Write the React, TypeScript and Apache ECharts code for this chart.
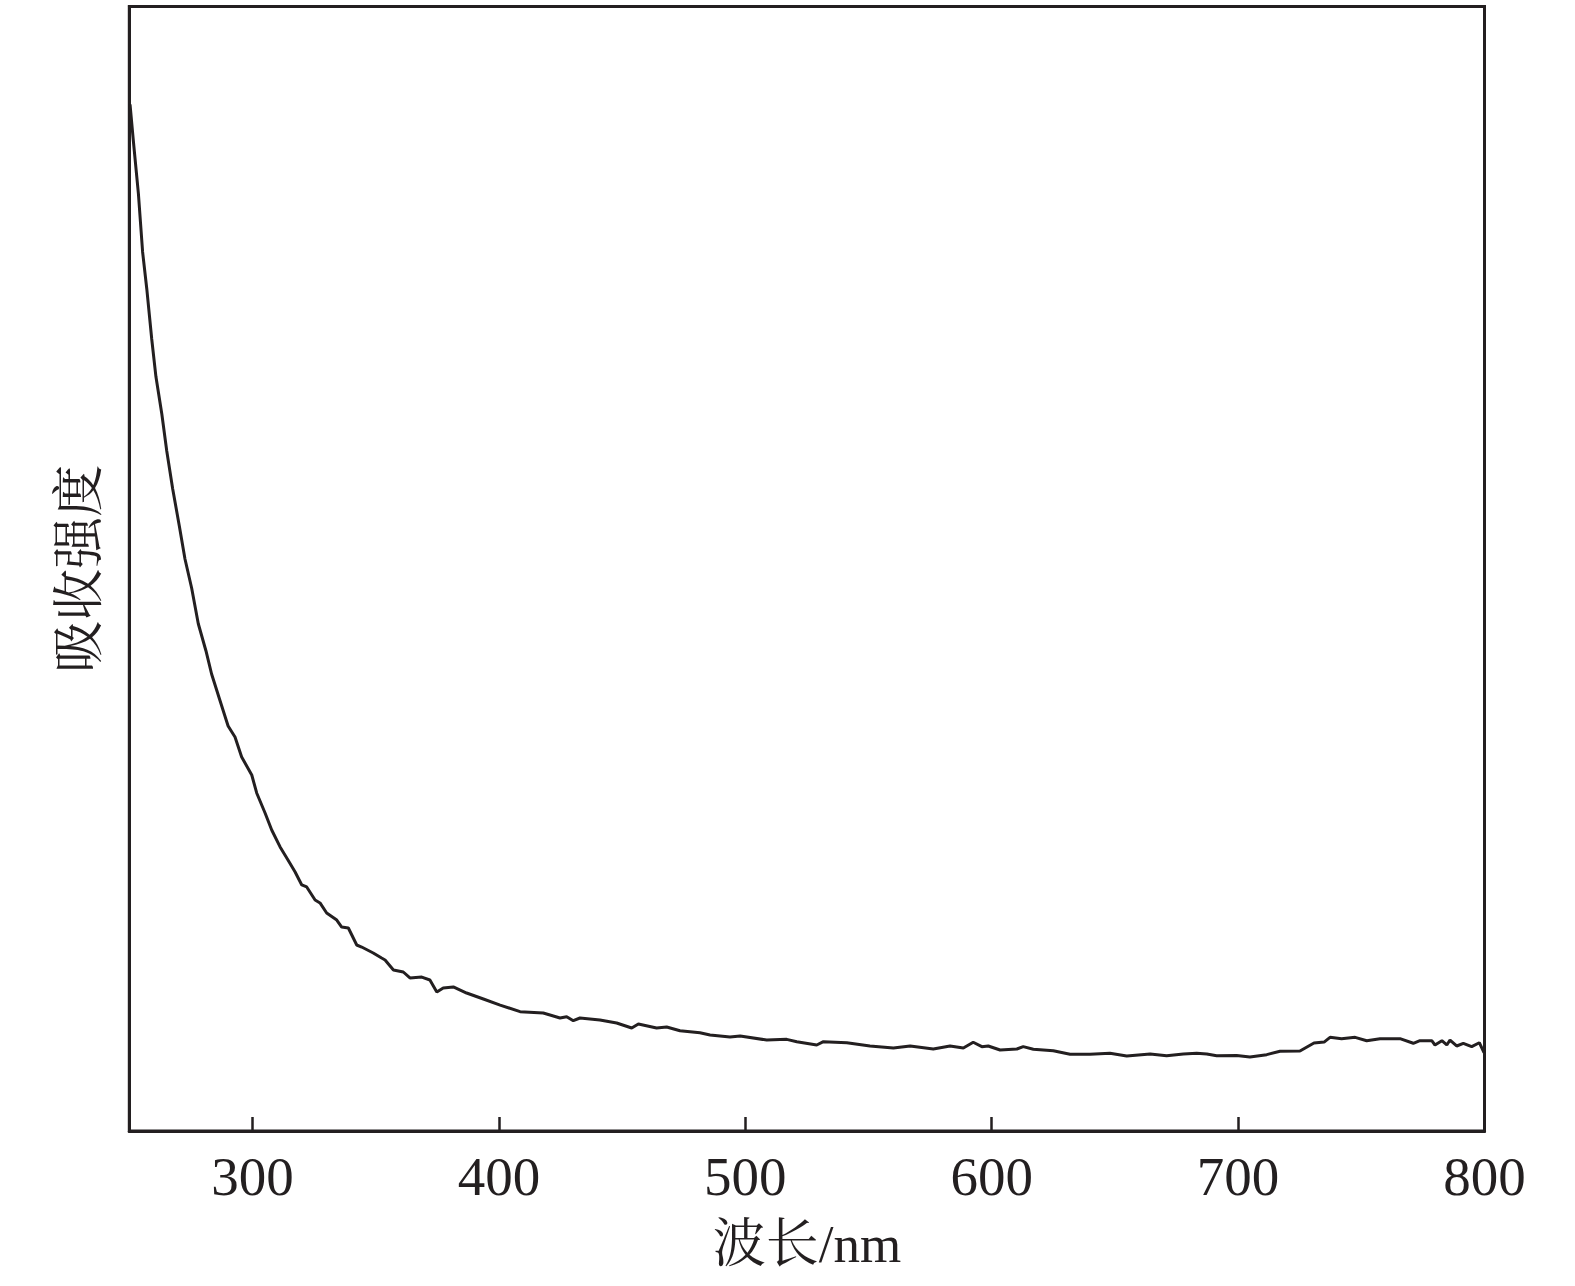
import React, { useEffect, useRef } from "react";
import * as echarts from "echarts";

// wavelength (nm)
const wavelengths: number[] = [
  250.3, 251.6, 253.7, 255.4, 257.1, 259.1, 260.8, 263.2, 265.2, 267.6,
  270.3, 272.6, 275.3, 278.0, 281.1, 283.4, 286.8, 290.1, 292.9, 295.6,
  299.7, 301.7, 305.1, 307.8, 311.2, 314.4, 317.3, 320.0, 322.0, 325.4,
  327.4, 330.1, 334.2, 336.2, 338.9, 342.3, 344.3, 349.0, 352.4, 353.8,
  357.2, 361.2, 363.9, 368.7, 372.0, 374.8, 377.4, 381.5, 386.9, 393.7,
  400.5, 408.6, 418.0, 424.8, 427.5, 430.2, 432.9, 441.0, 447.8, 453.9,
  456.6, 464.0, 468.1, 473.5, 481.6, 485.7, 493.8, 497.9, 508.7, 516.8,
  520.9, 529.0, 531.7, 541.2, 550.6, 560.1, 566.9, 576.3, 583.1, 588.5,
  592.5, 596.0, 598.6, 603.4, 610.2, 612.8, 616.9, 625.0, 631.8, 639.9,
  648.0, 654.8, 664.3, 671.0, 677.8, 683.2, 687.3, 691.3, 699.4, 704.8,
  711.6, 717.0, 725.1, 730.8, 734.9, 737.3, 742.0, 747.5, 752.2, 757.6,
  765.7, 771.1, 773.8, 778.6, 779.9, 782.7, 784.7, 786.0, 788.7, 791.4,
  794.8, 797.9, 799.8,
];

// absorption intensity (arbitrary units)
const absorbance: number[] = [
  0.9129, 0.8815, 0.8334, 0.7817, 0.7488, 0.7043, 0.6709, 0.6376, 0.6047, 0.5712,
  0.538, 0.5087, 0.4829, 0.4511, 0.4271, 0.4064, 0.3828, 0.3602, 0.3504, 0.3326,
  0.3166, 0.3006, 0.2828, 0.2677, 0.2526, 0.241, 0.2303, 0.2188, 0.217, 0.2054,
  0.2028, 0.1939, 0.1876, 0.1814, 0.1805, 0.1654, 0.1636, 0.1583, 0.1538, 0.1521,
  0.1432, 0.1414, 0.1361, 0.1369, 0.1343, 0.1236, 0.1272, 0.1281, 0.1227, 0.1174,
  0.112, 0.1061, 0.1049, 0.1005, 0.1016, 0.0981, 0.1005, 0.0987, 0.096, 0.0916,
  0.0952, 0.0916, 0.0925, 0.0892, 0.0874, 0.0854, 0.0836, 0.0845, 0.0809, 0.0815,
  0.0794, 0.0765, 0.0794, 0.0785, 0.0756, 0.0738, 0.0756, 0.0729, 0.0756, 0.0738,
  0.0789, 0.075, 0.0756, 0.072, 0.0729, 0.075, 0.0727, 0.0714, 0.0682, 0.0682,
  0.0691, 0.0667, 0.0685, 0.067, 0.0685, 0.0691, 0.0685, 0.067, 0.0671, 0.0658,
  0.0679, 0.0709, 0.0711, 0.0783, 0.0791, 0.0833, 0.0821, 0.0833, 0.0803, 0.0821,
  0.0821, 0.078, 0.0803, 0.0803, 0.0765, 0.0803, 0.0765, 0.0809, 0.0756, 0.078,
  0.075, 0.0785, 0.0696,
];

const xTicks: number[] = [300, 400, 500, 600, 700, 800];

const xAxisTitle = "波长/nm";
const yAxisTitle = "吸收强度";

const INK = "#231f20";
const SERIF = "'Liberation Serif', 'Times New Roman', 'Noto Serif CJK SC', 'Noto Sans CJK SC', serif";

export default function App() {
  const ref = useRef<HTMLDivElement>(null);

  useEffect(() => {
    document.body.style.margin = "0";
    if (!ref.current) return;
    const chart = echarts.init(ref.current, null, { renderer: "svg" });
    const data = wavelengths.map((w, i) => [w, absorbance[i]]);
    chart.setOption({
      animation: false,
      backgroundColor: "#ffffff",
      grid: {
        left: 129.3,
        right: 90.5,
        top: 6.5,
        bottom: 155,
        show: true,
        borderColor: INK,
        borderWidth: 3,
        backgroundColor: "transparent",
      },
      xAxis: {
        type: "value",
        min: 250,
        max: 800,
        name: xAxisTitle,
        nameLocation: "middle",
        nameGap: 86,
        nameTextStyle: { fontSize: 53, fontFamily: SERIF, color: INK },
        axisLine: { show: true, lineStyle: { color: INK, width: 3 } },
        axisTick: {
          show: true,
          inside: true,
          length: 14,
          customValues: xTicks,
          lineStyle: { color: INK, width: 2.5 },
        },
        axisLabel: {
          show: true,
          customValues: xTicks,
          fontSize: 55,
          fontFamily: SERIF,
          color: INK,
          margin: 18,
        },
        splitLine: { show: false },
        minorTick: { show: false },
      },
      yAxis: {
        type: "value",
        min: 0,
        max: 1,
        name: yAxisTitle,
        nameLocation: "middle",
        nameGap: 24,
        nameTextStyle: { fontSize: 52, fontFamily: SERIF, color: INK },
        axisLine: { show: true, lineStyle: { color: INK, width: 3 } },
        axisTick: { show: false },
        axisLabel: { show: false },
        splitLine: { show: false },
      },
      series: [
        {
          type: "line",
          data,
          symbol: "none",
          smooth: false,
          lineStyle: { color: INK, width: 3 },
          clip: true,
        },
      ],
    });
    return () => chart.dispose();
  }, []);

  return <div ref={ref} style={{ width: 1575, height: 1286 }} />;
}
